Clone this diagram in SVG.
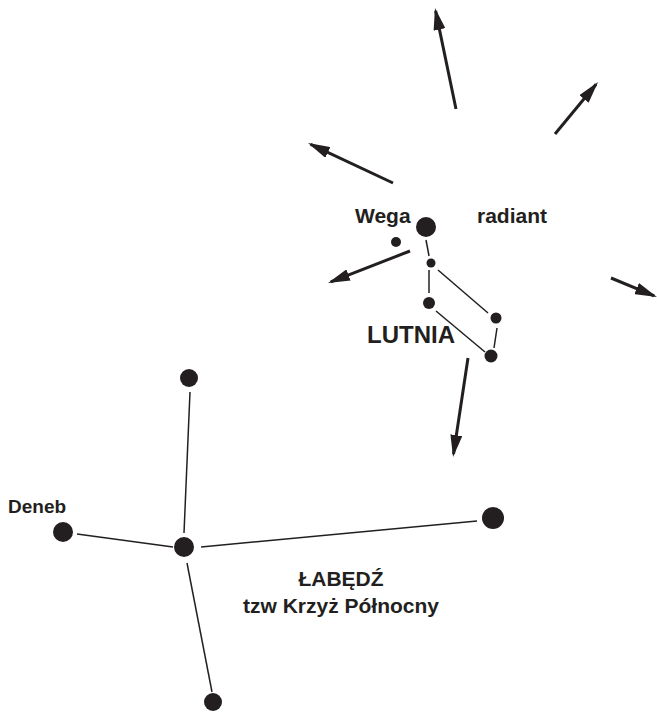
<svg xmlns="http://www.w3.org/2000/svg" width="657" height="712" viewBox="0 0 657 712">
<style>
.star{fill:#231f20}
.lnk{stroke:#231f20;stroke-width:1.5;fill:none}
.arr{stroke:#231f20;stroke-width:3;fill:none;marker-end:url(#ah)}
text{font-family:"Liberation Sans",Arial,sans-serif;font-weight:bold;fill:#231f20}
</style>
<defs>
<marker id="ah" markerUnits="userSpaceOnUse" markerWidth="22" markerHeight="12" viewBox="0 0 22 12" refX="19" refY="6" orient="auto">
<path d="M0,0 L22,6 L0,12 z" fill="#231f20"/>
</marker>
</defs>
<rect width="657" height="712" fill="#fff"/>
<g id="connectors">
<line class="lnk" x1="426" y1="240" x2="429" y2="256"/>
<line class="lnk" x1="429" y1="270" x2="429" y2="293"/>
<line class="lnk" x1="438" y1="270" x2="488" y2="313"/>
<line class="lnk" x1="436" y1="311" x2="485" y2="352"/>
<line class="lnk" x1="497" y1="328" x2="494" y2="348"/>
<line class="lnk" x1="190" y1="392" x2="184" y2="533"/>
<line class="lnk" x1="77" y1="534" x2="173" y2="547"/>
<line class="lnk" x1="201" y1="547" x2="477" y2="521"/>
<line class="lnk" x1="187" y1="563" x2="212" y2="692"/>
<line class="arr" x1="456" y1="109" x2="435.6" y2="10.9"/>
<line class="arr" x1="555" y1="134" x2="596.1" y2="84.3"/>
<line class="arr" x1="393" y1="183" x2="310.7" y2="144.3"/>
<line class="arr" x1="410" y1="251" x2="330.8" y2="281.9"/>
<line class="arr" x1="611" y1="278" x2="654.2" y2="295.9"/>
<line class="arr" x1="468" y1="358" x2="453.5" y2="454"/>
</g>
<g id="wega"><circle class="star" cx="426" cy="227" r="10"/></g>
<g id="star-small"><circle class="star" cx="396" cy="242" r="5"/></g>
<g id="lyra2"><circle class="star" cx="431" cy="263" r="4.5"/></g>
<g id="lyra3"><circle class="star" cx="429" cy="303" r="6"/></g>
<g id="lyra4"><circle class="star" cx="496" cy="318" r="5.5"/></g>
<g id="lyra5"><circle class="star" cx="491" cy="356" r="6.5"/></g>
<g id="cyg-top"><circle class="star" cx="189" cy="378" r="9"/></g>
<g id="deneb"><circle class="star" cx="63" cy="532" r="10"/></g>
<g id="cyg-center"><circle class="star" cx="184" cy="547" r="10"/></g>
<g id="cyg-right"><circle class="star" cx="493" cy="518" r="11"/></g>
<g id="cyg-bottom"><circle class="star" cx="213" cy="702" r="9"/></g>
<g id="labels">
<text x="355" y="223" font-size="21">Wega</text>
<text x="477" y="223" font-size="21">radiant</text>
<text x="367" y="343" font-size="24">LUTNIA</text>
<text x="8" y="513" font-size="19">Deneb</text>
<text x="341" y="586" font-size="21" text-anchor="middle">ŁABĘDŹ</text>
<text x="341" y="613" font-size="21" text-anchor="middle">tzw Krzyż Północny</text>
</g>
</svg>
